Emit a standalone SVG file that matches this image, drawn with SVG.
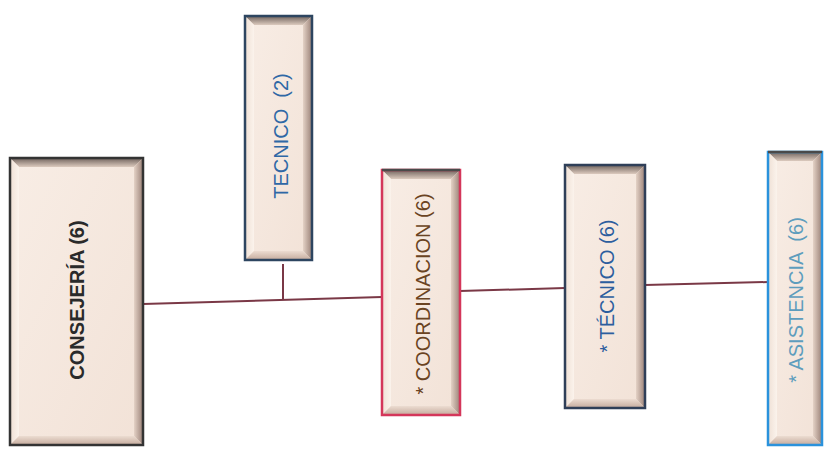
<svg xmlns="http://www.w3.org/2000/svg" width="825" height="455" viewBox="0 0 825 455">
<defs>
<linearGradient id="gTop" x1="0" y1="0" x2="0" y2="1"><stop offset="0" stop-color="#6f625c"/><stop offset="1" stop-color="#dccabe"/></linearGradient>
<linearGradient id="gLeft" x1="0" y1="0" x2="1" y2="0"><stop offset="0" stop-color="#efe0d5"/><stop offset="1" stop-color="#fbf3ec"/></linearGradient>
<linearGradient id="gRight" x1="0" y1="0" x2="1" y2="0"><stop offset="0" stop-color="#e4d2c6"/><stop offset="1" stop-color="#9a8177"/></linearGradient>
<linearGradient id="gBot" x1="0" y1="0" x2="0" y2="1"><stop offset="0" stop-color="#ecdcd1"/><stop offset="1" stop-color="#c4aa9c"/></linearGradient>
<linearGradient id="gFace" x1="0" y1="0" x2="1" y2="1"><stop offset="0" stop-color="#f8ede5"/><stop offset="1" stop-color="#f2e2d7"/></linearGradient>
</defs>
<style>
.face{fill:url(#gFace)}
.bt{fill:url(#gTop)}
.bl{fill:url(#gLeft)}
.br{fill:url(#gRight)}
.bb{fill:url(#gBot)}
.frame{fill:none;stroke-width:2.5}
.lbl{font-family:"Liberation Sans",Arial,sans-serif;font-size:20px;text-anchor:middle;dominant-baseline:central;white-space:pre}
.conn line{stroke:#7a3846;stroke-width:2;fill:none}
</style>
<rect width="825" height="455" fill="#ffffff"/>
<g class="conn" id="connectors">
<line x1="143" y1="304" x2="382" y2="297"/>
<line x1="283" y1="264" x2="283" y2="300"/>
<line x1="460" y1="291" x2="565" y2="288"/>
<line x1="645" y1="285" x2="768" y2="282"/>
</g>
<g id="consejeria">
<rect class="face" x="10" y="158" width="133" height="287"/>
<polygon class="bt" points="10,158 143,158 134,167 19,167"/>
<polygon class="bl" points="10,158 19,167 19,436 10,445"/>
<polygon class="br" points="143,158 143,445 134,436 134,167"/>
<polygon class="bb" points="10,445 19,436 134,436 143,445"/>
<rect class="frame" x="10" y="158" width="133" height="287" stroke="#333333"/>
<text class="lbl" transform="translate(77,300) rotate(-90)" fill="#2a2a2a" font-weight="bold">CONSEJERÍA (6)</text>
</g>
<g id="tecnico2">
<rect class="face" x="245" y="16" width="67" height="244"/>
<polygon class="bt" points="245,16 312,16 303,25 254,25"/>
<polygon class="bl" points="245,16 254,25 254,251 245,260"/>
<polygon class="br" points="312,16 312,260 303,251 303,25"/>
<polygon class="bb" points="245,260 254,251 303,251 312,260"/>
<rect class="frame" x="245" y="16" width="67" height="244" stroke="#2d4560"/>
<text class="lbl" transform="translate(281,136) rotate(-90)" fill="#2f68a6">TECNICO  (2)</text>
</g>
<g id="coordinacion">
<rect class="face" x="382" y="170" width="78" height="245"/>
<polygon class="bt" points="382,170 460,170 451,179 391,179"/>
<polygon class="bl" points="382,170 391,179 391,406 382,415"/>
<polygon class="br" points="460,170 460,415 451,406 451,179"/>
<polygon class="bb" points="382,415 391,406 451,406 460,415"/>
<rect class="frame" x="382" y="170" width="78" height="245" stroke="#d4365a"/>
<line x1="382" y1="170" x2="460" y2="170" stroke="#4a4a4a" stroke-width="2.5"/>
<text class="lbl" transform="translate(423,294) rotate(-90)" fill="#6a4322">* COORDINACION (6)</text>
</g>
<g id="tecnico6">
<rect class="face" x="565" y="165" width="80" height="243"/>
<polygon class="bt" points="565,165 645,165 636,174 574,174"/>
<polygon class="bl" points="565,165 574,174 574,399 565,408"/>
<polygon class="br" points="645,165 645,408 636,399 636,174"/>
<polygon class="bb" points="565,408 574,399 636,399 645,408"/>
<rect class="frame" x="565" y="165" width="80" height="243" stroke="#2f3f58"/>
<text class="lbl" transform="translate(607,286) rotate(-90)" fill="#2d5e9e">* TÉCNICO (6)</text>
</g>
<g id="asistencia">
<rect class="face" x="768" y="152" width="54" height="293"/>
<polygon class="bt" points="768,152 822,152 813,161 777,161"/>
<polygon class="bl" points="768,152 777,161 777,436 768,445"/>
<polygon class="br" points="822,152 822,445 813,436 813,161"/>
<polygon class="bb" points="768,445 777,436 813,436 822,445"/>
<rect class="frame" x="768" y="152" width="54" height="293" stroke="#2a92dc"/>
<line x1="768" y1="152" x2="822" y2="152" stroke="#4a4a4a" stroke-width="2.5"/>
<text class="lbl" transform="translate(796,300) rotate(-90)" fill="#5e9dbd">* ASISTENCIA  (6)</text>
</g>
</svg>
